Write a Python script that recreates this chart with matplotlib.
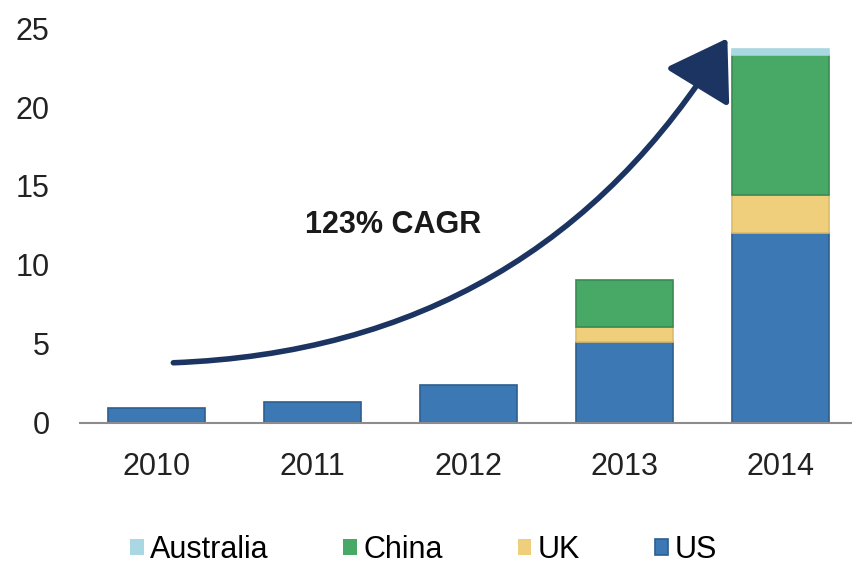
import matplotlib.pyplot as plt
from matplotlib.patches import FancyArrowPatch
import numpy as np

plt.rcParams['font.family'] = ['Liberation Sans', 'DejaVu Sans']

years = ['2010', '2011', '2012', '2013', '2014']
us = [0.95, 1.33, 2.4, 5.1, 12.0]
uk = [0.0, 0.0, 0.0, 1.0, 2.4]
china = [0.0, 0.0, 0.0, 2.95, 8.9]
australia = [0.0, 0.0, 0.0, 0.0, 0.4]

series = [('US', us, '#3b78b4', '#2d5f8f'),
          ('UK', uk, '#efcf7c', '#d9bb6a'),
          ('China', china, '#48a865', '#3a8a52'),
          ('Australia', australia, '#a9d8e2', '#a9d8e2')]

fig = plt.figure(figsize=(8.52, 5.73), dpi=100)
ax = fig.add_axes([0.094, 0.262, 0.906, 0.689])

x = np.arange(len(years))
bottom = np.zeros(len(years))
handles = {}
for name, vals, col, edge in series:
    vals = np.array(vals)
    lw = np.where(vals > 0, 1.2, 0)
    b = ax.bar(x, vals, 0.62, bottom=bottom, color=col, edgecolor=edge,
               linewidth=lw, label=name)
    handles[name] = b
    bottom += vals

ax.set_xlim(-0.49, 4.46)
ax.set_ylim(0, 25)
ax.set_yticks([0, 5, 10, 15, 20, 25])
ax.set_xticks(x)
ax.set_xticklabels(years)
ax.tick_params(axis='both', length=0, labelsize=22, colors='#222222')
ax.tick_params(axis='y', pad=22)
ax.tick_params(axis='x', pad=21)
for s in ['top', 'right', 'left']:
    ax.spines[s].set_visible(False)
ax.spines['bottom'].set_color('#8c8c8c')
ax.spines['bottom'].set_linewidth(1.5)

# growth arrow
arrow = FancyArrowPatch((0.09, 3.8), (3.67, 24.5),
                        connectionstyle='arc3,rad=0.27',
                        arrowstyle='-|>,head_length=2.0,head_width=1.3',
                        mutation_scale=18, color='#1c3461', linewidth=4,
                        clip_on=False)
ax.add_patch(arrow)
ax.text(1.52, 12.5, '123% CAGR', fontsize=22, fontweight='bold',
        color='#1a1a1a', ha='center', va='center')

order = ['Australia', 'China', 'UK', 'US']
leg = fig.legend([handles[n] for n in order], order, loc='center',
                 bbox_to_anchor=(0.497, 0.04), ncol=4, frameon=False,
                 fontsize=22, handlelength=0.45, handleheight=0.45,
                 handletextpad=0.2, columnspacing=2.45)

fig.savefig('out.png', dpi=100)
